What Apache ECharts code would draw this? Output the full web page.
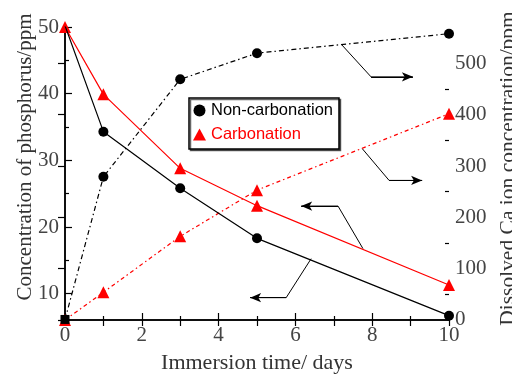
<!DOCTYPE html>
<html><head><meta charset="utf-8">
<script src="https://cdn.jsdelivr.net/npm/echarts@6/dist/echarts.min.js"></script>
<style>html,body{margin:0;padding:0;background:#fff}#c{width:512px;height:377px}</style>
</head><body><div id="c"></div>
<script>
// ---- data ----
const days = [0, 1, 3, 5, 10];
const phosNonCarb = [50.2, 34.3, 25.8, 18.3, 6.7];   // left axis, ppm
const phosCarb    = [50.0, 39.9, 28.8, 23.2, 11.3];  // left axis, ppm
const caNonCarb   = [1, 279, 469, 520, 558];         // right axis, ppm
const caCarb      = [0, 54, 163, 253, 402];          // right axis, ppm
const xTickLabels = [0, 2, 4, 6, 8, 10];
const leftTickLabels = [10, 20, 30, 40, 50];
const leftMinorTicks = [15, 25, 35, 45];
const rightTickLabels = [0, 100, 200, 300, 400, 500];
const rightMinorTicks = [50, 150, 250, 350, 450];
const legendNames = ['Non-carbonation', 'Carbonation'];
// annotation arrows, in data units [day, value]
const arrowCaNon   = [[7.19, 537.7], [7.97, 473.8], [9.06, 473.8]];
const arrowCaCarb  = [[7.74, 334], [8.44, 272], [9.30, 272]];
const arrowPhosCarb = [[7.76, 16.75], [7.11, 23.14], [6.15, 23.14]];
const arrowPhosNon  = [[6.41, 15.25], [5.76, 9.40], [4.82, 9.40]];

const serif = 'Liberation Serif';
const pair = (ys) => days.map((d, i) => [d, ys[i]]);

function arrowSeries(name, pts, yIdx) {
  return {
    name: name, type: 'line', yAxisIndex: yIdx, data: pts, showSymbol: false,
    symbol: 'none', silent: true, z: 1,
    lineStyle: { color: '#000', width: 1 },
    markLine: {
      silent: true, animation: false,
      symbol: ['none', 'arrow'], symbolSize: [7, 11],
      label: { show: false },
      lineStyle: { color: '#000', width: 1, type: 'solid' },
      data: [[{ coord: pts[1] }, { coord: pts[2] }]]
    }
  };
}

const chart = echarts.init(document.getElementById('c'), null, { renderer: 'canvas' });
const axisLine = { lineStyle: { color: '#000', width: 1.5 } };
const tickStyle = { color: '#000', width: 1.2 };
const labelStyle = { fontFamily: serif, fontSize: 21, color: '#444' };
chart.setOption({
  animation: false,
  backgroundColor: '#fff',
  grid: { left: 65, right: 63, top: 27, bottom: 56, containLabel: false, outerBoundsMode: 'none' },
  legend: {
    orient: 'vertical', left: 189, top: 98,
    padding: [4, 6, 6, 4], itemGap: 7, itemWidth: 13, itemHeight: 12,
    borderColor: '#000', borderWidth: 1.5, backgroundColor: '#fff',
    shadowColor: 'rgba(0,0,0,0.6)', shadowOffsetX: 1.5, shadowOffsetY: 1.5, shadowBlur: 0,
    textStyle: { fontFamily: 'Liberation Sans', fontSize: 16.5 },
    data: [
      { name: legendNames[0], icon: 'circle', textStyle: { color: '#000' } },
      { name: legendNames[1], icon: 'triangle', textStyle: { color: '#f00' } }
    ]
  },
  xAxis: [{
    type: 'value', position: 'bottom', min: 0, max: 10, interval: 2,
    axisLine: axisLine,
    axisTick: { inside: true, length: 7, lineStyle: tickStyle },
    minorTick: { show: true, splitNumber: 2, length: 4, lineStyle: tickStyle },
    splitLine: { show: false }, minorSplitLine: { show: false },
    axisLabel: Object.assign({ margin: 4 }, labelStyle),
    name: 'Immersion time/ days', nameLocation: 'middle', nameGap: 31, nameMoveOverlap: false,
    nameTextStyle: { fontFamily: serif, fontSize: 22, color: '#333' }
  }, {
    type: 'value', position: 'top', min: 0, max: 10, interval: 1,
    axisLine: axisLine,
    axisTick: { inside: true, length: 6, lineStyle: tickStyle },
    axisLabel: { show: false }, splitLine: { show: false }
  }],
  yAxis: [{
    type: 'value', position: 'left', min: 5.9, max: 50,
    axisLine: axisLine,
    axisTick: { inside: true, length: 7, lineStyle: tickStyle, customValues: leftTickLabels },
    axisLabel: Object.assign({ margin: 6, customValues: leftTickLabels }, labelStyle),
    splitLine: { show: false },
    name: 'Concentration of phosphorus/ppm', nameLocation: 'middle', nameGap: 29, nameRotate: 90,
    nameMoveOverlap: false,
    nameTextStyle: { fontFamily: serif, fontSize: 21, color: '#333', padding: [0, 0, 0, 34] }
  }, {
    type: 'value', position: 'right', min: -2, max: 571,
    axisLine: axisLine,
    axisTick: { inside: true, length: 7, lineStyle: tickStyle, customValues: rightTickLabels },
    axisLabel: Object.assign({ margin: 6, customValues: rightTickLabels }, labelStyle),
    splitLine: { show: false },
    name: 'Dissolved Ca ion concentration/ppm', nameLocation: 'middle', nameGap: 48, nameRotate: 90,
    nameMoveOverlap: false,
    nameTextStyle: { fontFamily: serif, fontSize: 21.5, color: '#333', padding: [0, 0, 0, 11] }
  }, {
    type: 'value', position: 'left', min: 5.9, max: 50,
    axisLine: { show: false },
    axisTick: { inside: true, length: 4, lineStyle: tickStyle, customValues: leftMinorTicks },
    axisLabel: { show: false }, splitLine: { show: false }
  }, {
    type: 'value', position: 'right', min: -2, max: 571,
    axisLine: { show: false },
    axisTick: { inside: true, length: 4, lineStyle: tickStyle, customValues: rightMinorTicks },
    axisLabel: { show: false }, splitLine: { show: false }
  }],
  series: [
    { name: legendNames[0], type: 'line', yAxisIndex: 0, data: pair(phosNonCarb),
      symbol: 'circle', symbolSize: 10, z: 3,
      itemStyle: { color: '#000' }, lineStyle: { color: '#000', width: 1.2 } },
    { name: legendNames[1], type: 'line', yAxisIndex: 0, data: pair(phosCarb),
      symbol: 'triangle', symbolSize: 12, z: 2,
      itemStyle: { color: '#f00' }, lineStyle: { color: '#f00', width: 1.2 } },
    { name: legendNames[0], type: 'line', yAxisIndex: 1,
      data: pair(caNonCarb).map((p, i) => i === 0 ? { value: p, symbol: 'rect', symbolSize: 9 } : p),
      symbol: 'circle', symbolSize: 10, z: 3,
      itemStyle: { color: '#000' }, lineStyle: { color: '#000', width: 1.2, type: [5, 3, 1.5, 3] } },
    { name: legendNames[1], type: 'line', yAxisIndex: 1, data: pair(caCarb),
      symbol: 'triangle', symbolSize: 12, z: 2,
      itemStyle: { color: '#f00' }, lineStyle: { color: '#f00', width: 1.2, type: [4, 3, 1.5, 3] } },
    arrowSeries('a1', arrowCaNon, 1),
    arrowSeries('a2', arrowCaCarb, 1),
    arrowSeries('a3', arrowPhosCarb, 0),
    arrowSeries('a4', arrowPhosNon, 0)
  ]
});
</script></body></html>
